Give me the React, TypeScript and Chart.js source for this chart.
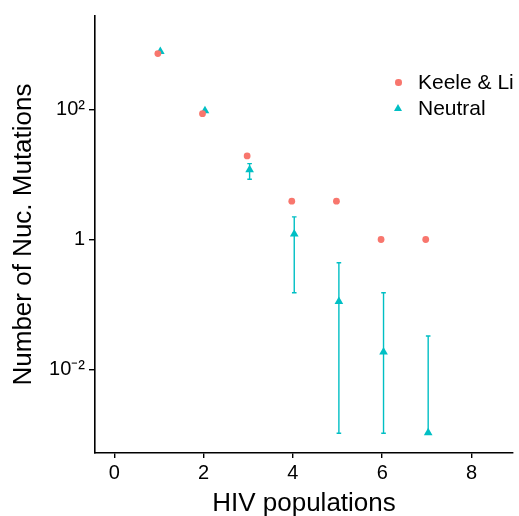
import React, { useEffect, useRef } from "react";
import { Chart, registerables } from "chart.js";

Chart.register(...registerables);

// ---- data ----
const populations = [1, 2, 3, 4, 5, 6, 7];
const keeleLi = [735, 87, 19.4, 3.9, 3.9, 1, 1];
const neutral = [794, 96.5, 11.9, 1.22, 0.111, 0.0185, 0.00105];
const neutralLow: (number | null)[] = [null, null, 8.5, 0.151, 0.00103, 0.00103, 0.00103];
const neutralHigh: (number | null)[] = [null, null, 14.8, 2.23, 0.438, 0.151, 0.0325];
const xTickValues = [0, 2, 4, 6, 8];
const yTickValues = [0.01, 1, 100];
const yTickLabels = ["10\u207B\u00B2", "1", "10\u00B2"];
const seriesNames = ["Keele & Li", "Neutral"];

// ---- style ----
const RED = "#F8766D";
const CYAN = "#00BFC4";
const FONT = '"Liberation Sans", Arial, Helvetica, sans-serif';
const DODGE_KEELE = -0.025;
const DODGE_NEUTRAL = 0.03;

const errorBarPlugin = {
  id: "errorBars",
  beforeDatasetsDraw(chart: any) {
    const ctx = chart.ctx;
    const xs = chart.scales.x;
    const ys = chart.scales.y;
    ctx.save();
    ctx.strokeStyle = CYAN;
    ctx.lineWidth = 1.4;
    populations.forEach((p, i) => {
      const lo = neutralLow[i];
      const hi = neutralHigh[i];
      if (lo == null || hi == null) return;
      const x = xs.getPixelForValue(p + DODGE_NEUTRAL);
      const y1 = ys.getPixelForValue(lo);
      const y2 = ys.getPixelForValue(hi);
      const cap = 2.3;
      ctx.beginPath();
      ctx.moveTo(x, y1);
      ctx.lineTo(x, y2);
      ctx.moveTo(x - cap, y1);
      ctx.lineTo(x + cap, y1);
      ctx.moveTo(x - cap, y2);
      ctx.lineTo(x + cap, y2);
      ctx.stroke();
    });
    ctx.restore();
  },
};

export default function App() {
  const ref = useRef<HTMLCanvasElement | null>(null);

  useEffect(() => {
    document.body.style.margin = "0";
    if (!ref.current) return;
    const chart = new Chart(ref.current, {
      type: "scatter",
      data: {
        datasets: [
          {
            label: seriesNames[0],
            data: populations.map((p, i) => ({ x: p + DODGE_KEELE, y: keeleLi[i] })),
            backgroundColor: RED,
            borderColor: RED,
            pointStyle: "circle",
            pointRadius: 3.4,
            borderWidth: 0,
          },
          {
            label: seriesNames[1],
            data: populations.map((p, i) => ({ x: p + DODGE_NEUTRAL, y: neutral[i] })),
            backgroundColor: CYAN,
            borderColor: CYAN,
            pointStyle: "triangle",
            pointRadius: 5,
            borderWidth: 0,
          },
        ],
      },
      options: {
        responsive: false,
        animation: false,
        devicePixelRatio: 1,
        layout: { padding: { top: 15, right: 6, left: 0, bottom: 0 } },
        plugins: {
          legend: { display: false },
          tooltip: { enabled: false },
        },
        scales: {
          x: {
            type: "linear",
            min: -0.433,
            max: 8.93,
            afterBuildTicks: (scale: any) => {
              scale.ticks = xTickValues.map((v) => ({ value: v }));
            },
            afterFit: (scale: any) => {
              scale.height = 63;
            },
            ticks: {
              color: "#000",
              font: { family: FONT, size: 20 },
              padding: 3,
              maxRotation: 0,
              callback: (v: any) => String(v),
            },
            grid: {
              display: true,
              drawOnChartArea: false,
              drawTicks: true,
              tickLength: 5,
              color: "#000",
              lineWidth: 1.4,
            },
            border: { display: true, color: "#000", width: 1.6 },
            title: {
              display: true,
              text: "HIV populations",
              color: "#000",
              font: { family: FONT, size: 26, lineHeight: 0.9 },
              padding: { top: 0, bottom: 0 },
            },
          },
          y: {
            type: "logarithmic",
            min: Math.pow(10, -3.292),
            max: Math.pow(10, 3.446),
            afterBuildTicks: (scale: any) => {
              scale.ticks = yTickValues.map((v) => ({ value: v }));
            },
            afterFit: (scale: any) => {
              scale.width = 95;
            },
            ticks: {
              color: "#000",
              font: { family: FONT, size: 20 },
              padding: 4,
              callback: (v: any) => {
                const idx = yTickValues.findIndex((t) => Math.abs(t - v) < t * 1e-6);
                return idx >= 0 ? yTickLabels[idx] : "";
              },
            },
            grid: {
              display: true,
              drawOnChartArea: false,
              drawTicks: true,
              tickLength: 6,
              color: "#000",
              lineWidth: 1.4,
            },
            border: { display: true, color: "#000", width: 1.6 },
            title: {
              display: true,
              text: "Number of Nuc. Mutations",
              color: "#000",
              font: { family: FONT, size: 26, lineHeight: 0.9 },
              padding: { top: 12, bottom: 0 },
            },
          },
        },
      },
      plugins: [errorBarPlugin],
    } as any);
    return () => chart.destroy();
  }, []);

  const legendText: React.CSSProperties = {
    position: "absolute",
    fontFamily: FONT,
    fontSize: 21,
    lineHeight: "21px",
    color: "#000",
    whiteSpace: "nowrap",
  };

  return (
    <div style={{ position: "relative", width: 519, height: 516 }}>
      <canvas ref={ref} width={519} height={516} style={{ display: "block" }} />
      <div
        style={{
          position: "absolute",
          left: 395,
          top: 79,
          width: 6.5,
          height: 6.5,
          borderRadius: "50%",
          background: RED,
        }}
      />
      <div style={{ ...legendText, left: 418, top: 71 }}>{seriesNames[0]}</div>
      <div
        style={{
          position: "absolute",
          left: 394,
          top: 104,
          width: 0,
          height: 0,
          borderLeft: "4.5px solid transparent",
          borderRight: "4.5px solid transparent",
          borderBottom: `7.5px solid ${CYAN}`,
        }}
      />
      <div style={{ ...legendText, left: 418, top: 97 }}>{seriesNames[1]}</div>
    </div>
  );
}
